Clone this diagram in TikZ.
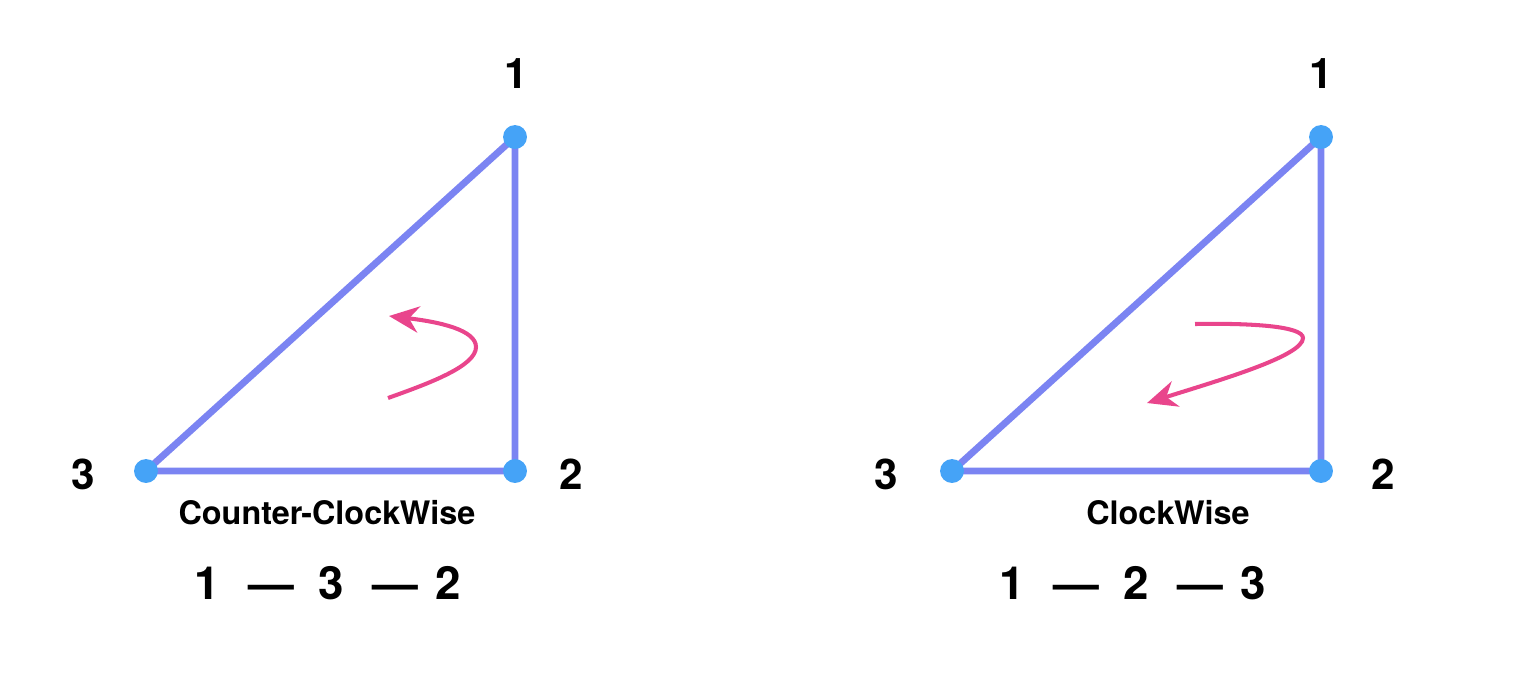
\documentclass[tikz,border=0pt]{standalone}
\usepackage{fontspec}
\setmainfont{TeX Gyre Heros}
\usetikzlibrary{arrows.meta,positioning}
\definecolor{edgeblue}{HTML}{7B84F2}
\definecolor{dotblue}{HTML}{45A3F7}
\definecolor{turnpink}{HTML}{E9458C}
\tikzset{
  edge/.style={draw=edgeblue,line width=1.95pt},
  vtx/.style={circle,fill=dotblue,inner sep=0pt,minimum size=6.8pt},
  vlabel/.style={font=\fontsize{12}{14}\selectfont\bfseries,inner sep=0pt},
  caption/.style={font=\fontsize{9.2}{11}\selectfont\bfseries,inner sep=0pt},
  order/.style={font=\fontsize{13}{15}\selectfont\bfseries,inner sep=0pt},
  turn/.style={-{Stealth[length=8.5pt,width=7.5pt]},draw=turnpink,line width=1.15pt},
}

\begin{document}
\begin{tikzpicture}[x=0.01cm,y=-0.01cm]
  \useasboundingbox (0,0) rectangle (1534,678);

  % left triangle
  \coordinate (a1) at (515,137);
  \coordinate (a2) at (515,471);
  \coordinate (a3) at (146,471);
  \draw[edge] (a1) -- (a2) -- (a3) -- cycle;
  \node[vtx] (da1) at (a1) {};
  \node[vtx] (da2) at (a2) {};
  \node[vtx] (da3) at (a3) {};
  \node[vlabel] (la1) at (516,74)  {1};
  \node[vlabel] (la2) at (571,474) {2};
  \node[vlabel] (la3) at (83,474)  {3};
  \node[caption] (ccw) at (327,513) {Counter-ClockWise};
  \node[order] (oa) at (328,583) {1\hspace{8pt}—\hspace{7pt}3\hspace{8pt}—\hspace{5pt}2};
  \coordinate (sa) at (388,398);
  \coordinate (ma) at (476,347);
  \coordinate (ea) at (389,316);
  \draw[turn] (sa) .. controls (430,383) and (476,366) .. (ma)
                   .. controls (476,330) and (440,322) .. (ea);

  % right triangle
  \coordinate (b1) at (1321,137);
  \coordinate (b2) at (1321,471);
  \coordinate (b3) at (952,471);
  \draw[edge] (b1) -- (b2) -- (b3) -- cycle;
  \node[vtx] (db1) at (b1) {};
  \node[vtx] (db2) at (b2) {};
  \node[vtx] (db3) at (b3) {};
  \node[vlabel] (lb1) at (1321,74)  {1};
  \node[vlabel] (lb2) at (1383,474) {2};
  \node[vlabel] (lb3) at (886,474)  {3};
  \node[caption] (cw) at (1168,513) {ClockWise};
  \node[order] (ob) at (1133,583) {1\hspace{8pt}—\hspace{7pt}2\hspace{8pt}—\hspace{5pt}3};
  \coordinate (sb) at (1195,324);
  \coordinate (mb) at (1303,338);
  \coordinate (eb) at (1147,403);
  \draw[turn] (sb) .. controls (1250,323) and (1303,326) .. (mb)
                   .. controls (1303,356) and (1220,380) .. (eb);
\end{tikzpicture}
\end{document}
